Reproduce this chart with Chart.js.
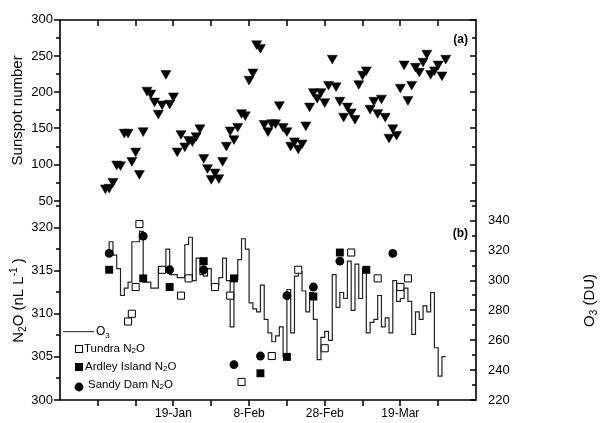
<!DOCTYPE html>
<html>
<head>
<meta charset="utf-8">
<script src="https://cdn.jsdelivr.net/npm/chart.js@4.4.0/dist/chart.umd.min.js"></script>
<style>
  html, body { margin: 0; padding: 0; background: #fff; }
</style>
</head>
<body>
<canvas id="chart" width="606" height="423"></canvas>
<script>
// day numbers: 1 = 1 Jan (leap year, so 19-Mar is day 79)
const firstDay = 1;

// daily sunspot number, 1 Jan .. 31 Mar
const sunspot = [
  68, 69, 77, 101, 100, 145, 145, 106, 119, 88,
  147, 203, 199, 188, 171, 184, 226, 185, 195, 119,
  143, 126, 135, 133, 140, 151, 110, 96, 81, 90,
  82, 106, 127, 148, 136, 153, 172, 169, 218, 228,
  267, 262, 157, 147, 158, 158, 183, 153, 147, 127,
  133, 123, 130, 155, 181, 201, 193, 201, 187, 211,
  247, 209, 189, 167, 181, 173, 164, 212, 225, 231,
  178, 189, 172, 192, 167, 138, 151, 142, 207, 239,
  190, 211, 236, 229, 243, 254, 226, 231, 239, 224, 247
];

// daily total ozone (DU), 1 Jan .. 31 Mar
const ozone = [
  318, 326, 317, 308, 290, 295, 299, 326, 326, 333,
  299, 299, 295, 295, 309, 309, 321, 304, 304, 302,
  302, 324, 329, 300, 315, 304, 303, 308, 297, 297,
  302, 315, 300, 269, 301, 314, 328, 321, 285, 281,
  279, 297, 274, 265, 259, 263, 269, 249, 294, 265,
  303, 306, 293, 279, 292, 274, 247, 262, 266, 260,
  304, 282, 292, 288, 313, 280, 311, 288, 308, 265,
  272, 274, 290, 269, 275, 265, 300, 286, 288, 295,
  286, 264, 279, 274, 283, 279, 292, 255, 236, 249, 249
];

// N2O samples (nL/L)
const tundraDays = [7, 8, 9, 10, 16, 21, 23, 30, 34, 37, 45, 52, 59, 66, 73, 79, 81];
const tundraN2O  = [309.1, 310.0, 313.1, 320.4, 315.1, 312.1, 314.1, 313.1, 312.1, 302.1, 305.1, 315.1, 306.0, 317.1, 314.1, 313.1, 314.1];

const ardleyDays = [2, 11, 18, 27, 35, 42, 49, 56, 63, 70];
const ardleyN2O  = [315.1, 314.1, 313.1, 316.1, 314.1, 303.1, 305.0, 312.0, 317.1, 315.1];

const sandyDays = [2, 11, 18, 27, 35, 42, 49, 56, 63, 77];
const sandyN2O  = [317.0, 319.0, 315.1, 315.1, 304.1, 305.1, 312.1, 313.1, 316.1, 317.0];

// axes
const xTickDays = [-1, 9, 19, 29, 39, 49, 59, 69, 79, 89];
const dateTicks = [19, 39, 59, 79];
const dateLabels = ['19-Jan', '8-Feb', '28-Feb', '19-Mar'];
const sunTicks = [50, 100, 150, 200, 250, 300];
const n2oTicks = [300, 305, 310, 315, 320];
const o3Ticks = [220, 240, 260, 280, 300, 320, 340];

const FONT = "'Liberation Sans', Arial, sans-serif";

const pts = (days, vals) => days.map((d, i) => ({ x: d, y: vals[i] }));
const daily = vals => vals.map((v, i) => ({ x: firstDay + i, y: v }));

function setTicks(list) {
  return s => { s.ticks = list.map(v => ({ value: v })); };
}

// text with sub/superscripts: parts = [text, size, dy]
function rich(ctx, parts, x, y, rot) {
  ctx.save();
  ctx.translate(x, y);
  ctx.rotate(rot);
  let w = 0;
  parts.forEach(p => { ctx.font = p[1] + 'px ' + FONT; w += ctx.measureText(p[0]).width; });
  let cx = -w / 2;
  ctx.textBaseline = 'middle';
  ctx.textAlign = 'left';
  parts.forEach(p => {
    ctx.font = p[1] + 'px ' + FONT;
    ctx.fillText(p[0], cx, p[2]);
    cx += ctx.measureText(p[0]).width;
  });
  ctx.restore();
}

function richLeft(ctx, parts, x, y) {
  ctx.save();
  ctx.textBaseline = 'middle';
  ctx.textAlign = 'left';
  let cx = x;
  parts.forEach(p => {
    ctx.font = p[1] + 'px ' + FONT;
    ctx.fillText(p[0], cx, y + p[2]);
    cx += ctx.measureText(p[0]).width;
  });
  ctx.restore();
}

function minors(list, max) {
  const out = [];
  for (let i = 0; i < list.length - 1; i++) out.push((list[i] + list[i + 1]) / 2);
  const step = list[1] - list[0];
  const extra = list[list.length - 1] + step / 2;
  if (extra <= max) out.push(extra);
  return out;
}

const frame = {
  id: 'frame',
  afterDraw(chart) {
    const { ctx, chartArea: a, scales } = chart;
    const L = Math.round(a.left), R = Math.round(a.right);
    const T = Math.round(a.top), B = Math.round(a.bottom);
    ctx.save();

    // plot box
    ctx.strokeStyle = '#000';
    ctx.lineWidth = 1.6;
    ctx.setLineDash([]);
    ctx.beginPath();
    ctx.rect(L, T, R - L, B - T);
    ctx.stroke();

    ctx.fillStyle = '#000';
    // tick marks: len < 0 goes left of the line
    const yt = (scale, vals, x, len) => vals.forEach(v => {
      const y = Math.round(scale.getPixelForValue(v));
      if (len < 0) ctx.fillRect(x + len, y - 0.75, -len, 1.5);
      else ctx.fillRect(x, y - 0.75, len, 1.5);
    });
    const sun = scales.ySun, n2o = scales.yN2O, o3 = scales.yO3;
    yt(sun, sunTicks, L, -6); yt(sun, minors(sunTicks, 300), L, -4);
    yt(n2o, n2oTicks, L, -6); yt(n2o, minors(n2oTicks, n2o.max), L, -4);
    yt(sun, sunTicks, R, -6); yt(sun, minors(sunTicks, 300), R, -4);
    yt(o3, o3Ticks, R, -6); yt(o3, minors(o3Ticks, o3.max), R, -4);
    xTickDays.forEach(d => {
      const x = Math.round(scales.x.getPixelForValue(d));
      ctx.fillRect(x - 0.75, T, 1.5, 6);
      ctx.fillRect(x - 0.75, B, 1.5, 6);
    });

    // axis titles
    rich(ctx, [['N', 15, 0], ['2', 10, 4], ['O (nL L', 15, 0], ['-1', 10, -5], [' )', 15, 0]],
      19, (n2o.top + n2o.bottom) / 2, -Math.PI / 2);
    rich(ctx, [['O', 15, 0], ['3', 10, 4], [' (DU)', 15, 0]],
      590, (o3.top + o3.bottom) / 2, -Math.PI / 2);

    // panel tags
    ctx.font = 'bold 12px ' + FONT;
    ctx.textAlign = 'right';
    ctx.textBaseline = 'middle';
    ctx.fillText('(a)', R - 8, sun.top + 20);
    ctx.fillText('(b)', R - 8, o3.top + 33);

    // legend
    ctx.fillStyle = '#444';
    ctx.fillRect(L + 3, 331, 31, 1.2);
    ctx.fillStyle = '#000';
    richLeft(ctx, [['O', 12, 0], ['3', 8, 4]], L + 36, 332);

    ctx.fillRect(L + 15, 345, 8, 8);
    ctx.fillStyle = '#fff';
    ctx.fillRect(L + 16, 346, 6, 6);
    ctx.fillStyle = '#000';
    richLeft(ctx, [['Tundra N', 11.5, 0], ['2', 8, 2], ['O', 11.5, 0]], L + 24, 349);

    ctx.fillRect(L + 15, 363, 8, 8);
    richLeft(ctx, [['Ardley Island N', 11.5, 0], ['2', 8, 2], ['O', 11.5, 0]], L + 25, 367);

    ctx.beginPath();
    ctx.arc(L + 19, 387, 4.4, 0, Math.PI * 2);
    ctx.fill();
    richLeft(ctx, [['Sandy Dam N', 11.5, 0], ['2', 8, 2], ['O', 11.5, 0]], L + 28, 385);
    ctx.restore();
  }
};

const tickFont = { family: FONT, size: 13 };
const noGrid = { display: false, drawTicks: false };
const noBorder = { display: false };
const yTicks = { font: tickFont, color: '#000', padding: 7, autoSkip: false };

new Chart(document.getElementById('chart'), {
  type: 'scatter',
  data: {
    datasets: [
      {
        label: 'Sunspot number',
        data: daily(sunspot),
        yAxisID: 'ySun',
        pointStyle: 'triangle',
        rotation: 180,
        radius: 5.8,
        backgroundColor: '#000',
        borderColor: '#000',
        borderWidth: 0.5,
        order: 1
      },
      {
        label: 'Sandy Dam N2O',
        data: pts(sandyDays, sandyN2O),
        yAxisID: 'yN2O',
        pointStyle: 'circle',
        radius: 4.4,
        backgroundColor: '#000',
        borderColor: '#000',
        borderWidth: 0,
        order: 2
      },
      {
        label: 'Ardley Island N2O',
        data: pts(ardleyDays, ardleyN2O),
        yAxisID: 'yN2O',
        pointStyle: 'rect',
        radius: 5.6,
        backgroundColor: '#000',
        borderColor: '#000',
        borderWidth: 0,
        order: 3
      },
      {
        label: 'Tundra N2O',
        data: pts(tundraDays, tundraN2O),
        yAxisID: 'yN2O',
        pointStyle: 'rect',
        radius: 5,
        backgroundColor: '#fff',
        borderColor: '#000',
        borderWidth: 1,
        order: 4
      },
      {
        label: 'O3',
        type: 'line',
        data: daily(ozone),
        yAxisID: 'yO3',
        stepped: true,
        borderColor: '#222',
        borderWidth: 1.2,
        pointRadius: 0,
        fill: false,
        order: 10
      }
    ]
  },
  options: {
    responsive: false,
    animation: false,
    devicePixelRatio: 1,
    layout: { padding: { top: 18 } },
    plugins: {
      legend: { display: false },
      tooltip: { enabled: false }
    },
    scales: {
      x: {
        type: 'linear',
        position: 'bottom',
        min: -11,
        max: 99,
        afterBuildTicks: setTicks(dateTicks),
        afterFit: s => { s.height = 23; },
        grid: noGrid,
        border: noBorder,
        ticks: {
          font: { family: FONT, size: 12 },
          color: '#000',
          padding: 6,
          maxRotation: 0,
          autoSkip: false,
          callback: v => dateLabels[dateTicks.indexOf(v)]
        }
      },
      yN2O: {
        position: 'left',
        stack: 'left',
        stackWeight: 200,
        min: 300,
        max: 323.08,
        afterBuildTicks: setTicks(n2oTicks),
        afterFit: s => { s.width = 60; },
        grid: noGrid,
        border: noBorder,
        ticks: yTicks
      },
      ySun: {
        position: 'left',
        stack: 'left',
        stackWeight: 182,
        min: 50,
        max: 300,
        afterBuildTicks: setTicks(sunTicks),
        afterFit: s => { s.width = 60; },
        grid: noGrid,
        border: noBorder,
        ticks: yTicks,
        title: {
          display: true,
          text: 'Sunspot number',
          font: { family: FONT, size: 15 },
          color: '#000',
          padding: { top: 9 }
        }
      },
      ySunR: {
        position: 'right',
        stack: 'right',
        stackWeight: 182,
        min: 50,
        max: 300,
        afterFit: s => { s.width = 130; },
        grid: noGrid,
        border: noBorder,
        ticks: { display: false }
      },
      yO3: {
        position: 'right',
        stack: 'right',
        stackWeight: 200,
        min: 220,
        max: 353.33,
        afterBuildTicks: setTicks(o3Ticks),
        afterFit: s => { s.width = 130; },
        grid: noGrid,
        border: noBorder,
        ticks: { font: tickFont, color: '#000', padding: 12, autoSkip: false }
      }
    }
  },
  plugins: [frame]
});
</script>
</body>
</html>
